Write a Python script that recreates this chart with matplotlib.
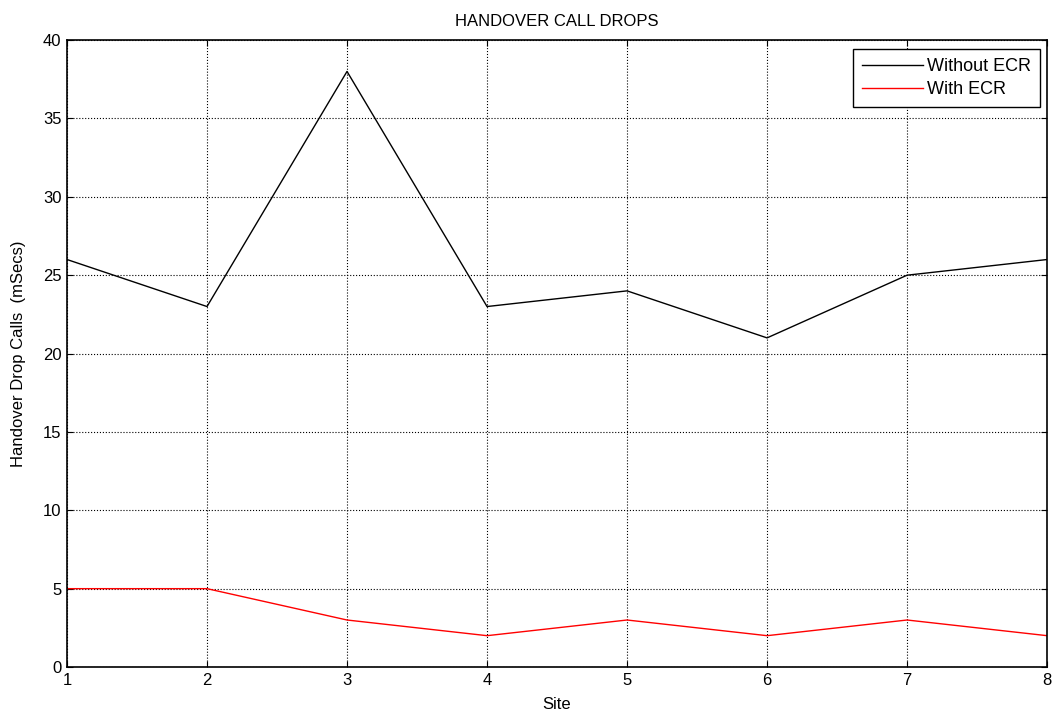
import matplotlib
matplotlib.use("Agg")
import matplotlib.pyplot as plt

# site index and drop counts
sites = [1, 2, 3, 4, 5, 6, 7, 8]
without_ecr = [26, 23, 38, 23, 24, 21, 25, 26]
with_ecr = [5, 5, 3, 2, 3, 2, 3, 2]

plt.rcParams['font.family'] = ['Liberation Sans', 'DejaVu Sans']

fig = plt.figure(figsize=(10.55, 7.16), dpi=100)
ax = fig.add_axes([0.0635, 0.0684, 0.9290, 0.8756])

ax.plot(sites, without_ecr, color='black', linewidth=1, label='Without ECR')
ax.plot(sites, with_ecr, color='red', linewidth=1, label='With ECR')

ax.set_xlim(1, 8)
ax.set_ylim(0, 40)
ax.set_xticks(sites)
ax.set_yticks(range(0, 41, 5))
ax.grid(True, color='black', linestyle=':', linewidth=0.8)
ax.tick_params(direction='in', labelsize=12, length=4, top=True, right=True, pad=4)
for s in ax.spines.values():
    s.set_linewidth(1.2)

ax.set_title('HANDOVER CALL DROPS', fontsize=12, pad=10)
ax.set_xlabel('Site', fontsize=12, labelpad=7)
ax.set_ylabel('Handover Drop Calls  (mSecs)', fontsize=12, labelpad=12)

leg = ax.legend(loc='upper right', fontsize=13, fancybox=False, framealpha=1,
                edgecolor='black', handlelength=3.4, handletextpad=0.2,
                borderpad=0.5, labelspacing=0.35, borderaxespad=0,
                bbox_to_anchor=(0.9929, 0.9856))
leg.get_frame().set_linewidth(1.0)

fig.savefig('out.png', dpi=100)
